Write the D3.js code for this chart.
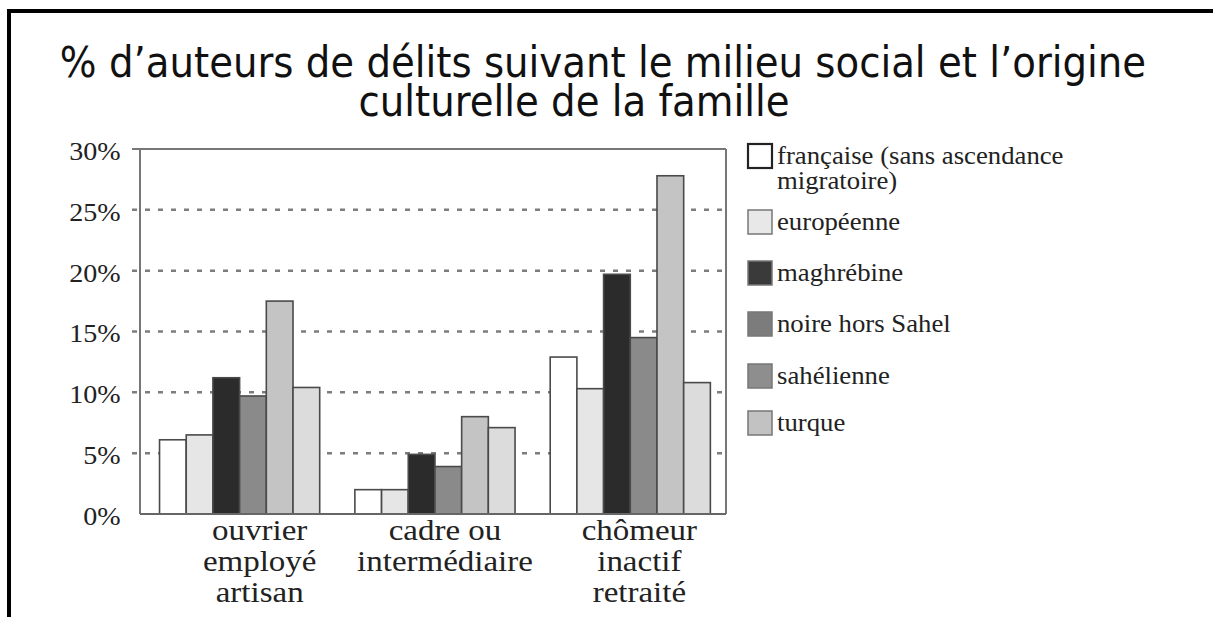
<!DOCTYPE html>
<html>
<head>
<meta charset="utf-8">
<script src="https://cdn.jsdelivr.net/npm/d3@7"></script>
<style>
  body { margin: 0; background: #fff; }
  svg { display: block; }
</style>
</head>
<body>
<svg id="chart" width="1213" height="617"></svg>
<script>
// data
const titleLines = ["% d’auteurs de délits suivant le milieu social et l’origine", "culturelle de la famille"];
const categories = ["ouvrier employé artisan", "cadre ou intermédiaire", "chômeur inactif retraité"];
const categoryLines = [["ouvrier", "employé", "artisan"], ["cadre ou", "intermédiaire"], ["chômeur", "inactif", "retraité"]];
const seriesNames = ["française (sans ascendance migratoire)", "européenne", "maghrébine", "noire hors Sahel", "sahélienne", "turque"];
const legendLines = [["française (sans ascendance", "migratoire)"], ["européenne"], ["maghrébine"], ["noire hors Sahel"], ["sahélienne"], ["turque"]];
const francaise = [6.1, 2.0, 12.9];
const europeenne = [6.5, 2.0, 10.3];
const maghrebine = [11.2, 4.9, 19.7];
const noireHorsSahel = [9.7, 3.9, 14.5];
const sahelienne = [17.5, 8.0, 27.8];
const turque = [10.4, 7.1, 10.8];
const yTicks = [0, 5, 10, 15, 20, 25, 30];

const seriesValues = [francaise, europeenne, maghrebine, noireHorsSahel, sahelienne, turque];

// greys as printed (bars and legend swatches differ in the scan)
const barFill = ["#ffffff", "#e6e6e6", "#2b2b2b", "#8a8a8a", "#c4c4c4", "#dcdcdc"];
const swatchFill = ["#ffffff", "#e8e8e8", "#3a3a3a", "#7c7c7c", "#8e8e8e", "#c2c2c2"];
const labelShift = [22, 12, 11];

const svg = d3.select("#chart");
const plot = { left: 140, right: 726, top: 149, bottom: 514 };
const serif = "Liberation Serif";

// frame (top + left only)
svg.append("line").attr("x1", 9).attr("x2", 1213).attr("y1", 11).attr("y2", 11)
  .attr("stroke", "#000").attr("stroke-width", 4);
svg.append("line").attr("x1", 9).attr("x2", 9).attr("y1", 9).attr("y2", 617)
  .attr("stroke", "#000").attr("stroke-width", 4);

// title - the scan is a bit condensed, so squeeze it horizontally
const titlePos = [[603, 77], [574, 116]];
titleLines.forEach((line, i) => {
  svg.append("text")
    .attr("transform", `translate(${titlePos[i][0]},${titlePos[i][1]}) scale(0.9,1)`)
    .attr("text-anchor", "middle")
    .style("font-family", "DejaVu Sans").style("font-size", "43px").attr("fill", "#111")
    .text(line);
});

const y = d3.scaleLinear().domain([0, 30]).range([plot.bottom, plot.top]);
const x0 = d3.scaleBand().domain(categories).range([plot.left, plot.right]).padding(0);
const x1 = d3.scaleBand().domain(d3.range(seriesNames.length))
  .range([x0.bandwidth() * 0.1, x0.bandwidth() * 0.92]).padding(0);

// gridlines, dashed except top
svg.append("g").selectAll("line").data(yTicks.filter(t => t > 0 && t < 30)).join("line")
  .attr("x1", plot.left - 8).attr("x2", plot.right)
  .attr("y1", d => y(d)).attr("y2", d => y(d))
  .attr("stroke", "#7d7d7d").attr("stroke-width", 2.5).attr("stroke-dasharray", "5 8");

// plot box
svg.append("line").attr("x1", plot.left - 8).attr("x2", plot.right).attr("y1", y(30)).attr("y2", y(30))
  .attr("stroke", "#777").attr("stroke-width", 2);
svg.append("line").attr("x1", plot.right).attr("x2", plot.right).attr("y1", y(30)).attr("y2", y(0))
  .attr("stroke", "#777").attr("stroke-width", 2);

// y axis labels
const yAxis = d3.axisLeft(y).tickValues(yTicks).tickFormat(d => d + "%").tickSize(0).tickPadding(18);
const gy = svg.append("g").attr("transform", `translate(${plot.left},0)`).call(yAxis);
gy.select(".domain").remove();
gy.selectAll("text").style("font-family", serif).style("font-size", "26px")
  .attr("fill", "#222").attr("dy", "0.4em").attr("transform", "scale(1.08,1)");

// bars
const groups = svg.append("g").selectAll("g").data(categories).join("g")
  .attr("transform", d => `translate(${x0(d)},0)`);
groups.selectAll("rect").data((d, ci) => seriesValues.map((vals, si) => ({ si, v: vals[ci] }))).join("rect")
  .attr("x", d => x1(d.si)).attr("width", x1.bandwidth())
  .attr("y", d => y(d.v)).attr("height", d => y(0) - y(d.v))
  .attr("fill", d => barFill[d.si]).attr("stroke", "#4a4a4a").attr("stroke-width", 1.6);

// axis lines on top of bars
svg.append("line").attr("x1", plot.left).attr("x2", plot.left).attr("y1", y(30)).attr("y2", y(0))
  .attr("stroke", "#777").attr("stroke-width", 2);
svg.append("line").attr("x1", plot.left).attr("x2", plot.right).attr("y1", y(0)).attr("y2", y(0))
  .attr("stroke", "#666").attr("stroke-width", 2);

// category labels
categories.forEach((c, i) => {
  const cx = x0(c) + x0.bandwidth() / 2 + labelShift[i];
  const t = svg.append("text").attr("text-anchor", "middle")
    .attr("transform", `translate(${cx},0) scale(1.1,1)`)
    .style("font-family", serif).style("font-size", "30px").attr("fill", "#222");
  categoryLines[i].forEach((line, j) => {
    t.append("tspan").attr("x", 0).attr("y", 540 + j * 31).text(line);
  });
});

// legend
const legendRowY = [156, 222, 273, 324, 376, 423];
const lg = svg.append("g");
seriesNames.forEach((name, i) => {
  lg.append("rect").attr("x", 748).attr("y", legendRowY[i] - 12).attr("width", 24).attr("height", 24)
    .attr("fill", swatchFill[i]).attr("stroke", i === 0 ? "#222" : "#777").attr("stroke-width", i === 0 ? 2.2 : 1.5);
  const t = lg.append("text")
    .attr("transform", "translate(777,0) scale(1.07,1)")
    .style("font-family", serif).style("font-size", "25px").attr("fill", "#222");
  legendLines[i].forEach((line, j) => {
    t.append("tspan").attr("x", 0).attr("y", legendRowY[i] + 8 + j * 25).text(line);
  });
});
</script>
</body>
</html>
